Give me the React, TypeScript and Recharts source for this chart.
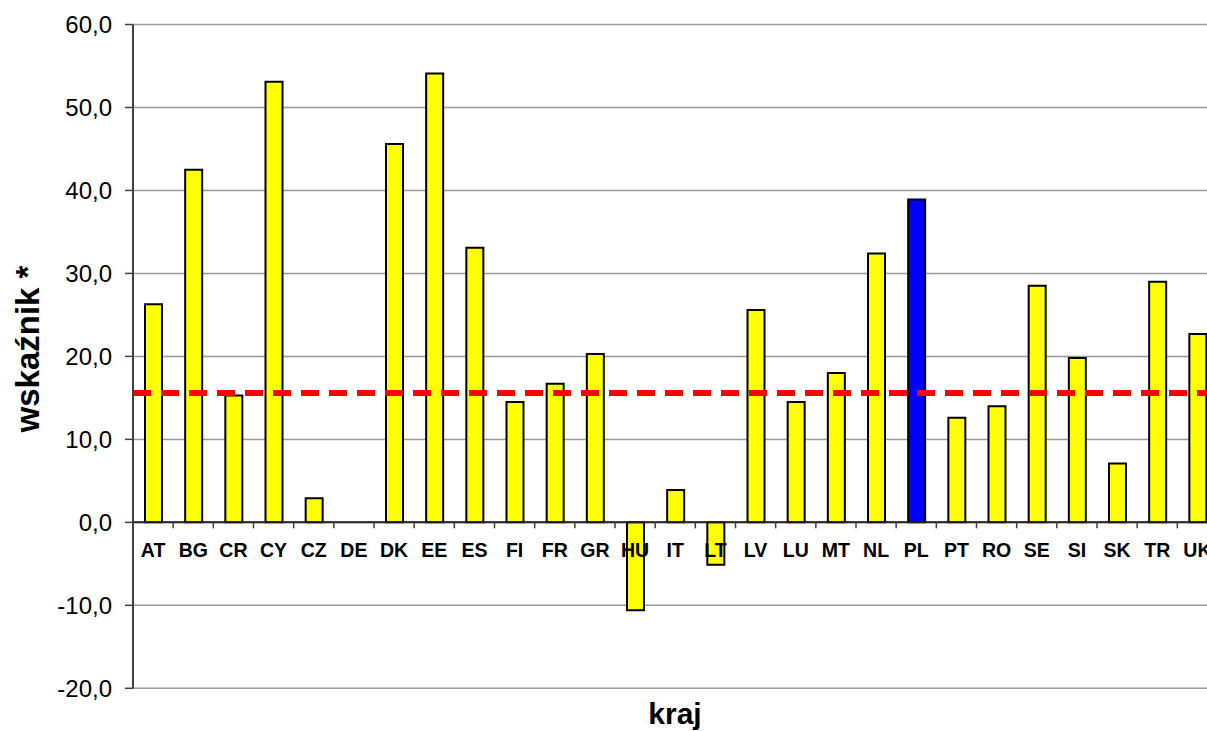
import { BarChart, Bar, Cell, CartesianGrid, XAxis, YAxis, ReferenceLine } from "recharts";

const countries = ["AT", "BG", "CR", "CY", "CZ", "DE", "DK", "EE", "ES", "FI", "FR", "GR", "HU", "IT", "LT", "LV", "LU", "MT", "NL", "PL", "PT", "RO", "SE", "SI", "SK", "TR", "UK"];
const values = [26.3, 42.5, 15.3, 53.1, 2.9, 0, 45.6, 54.1, 33.1, 14.5, 16.7, 20.3, -10.6, 3.9, -5.1, 25.6, 14.5, 18.0, 32.4, 38.9, 12.6, 14.0, 28.5, 19.8, 7.1, 29.0, 22.7];
const yTicks = [-20, -10, 0, 10, 20, 30, 40, 50, 60];
const average = 15.6;
const highlighted = "PL";

const data = countries.map((kraj, i) => ({ kraj, value: values[i] }));

const W = 1240;
const H = 731;
const X_AXIS_H = 2;
const M = { top: 24.5, right: 22.5, bottom: 42.7 - X_AXIS_H, left: 73 };
const Y_AXIS_W = 60;
const plotW = W - M.left - M.right - Y_AXIS_W;
const plotH = H - M.top - M.bottom - X_AXIS_H;
const band = plotW / countries.length;
const zeroOffset = (0 - yTicks[0]) / (yTicks[yTicks.length - 1] - yTicks[0]) * plotH;
const plotBottom = M.top + plotH;

const font = "'Liberation Sans', Arial, sans-serif";
const fmt = (v: number) => v.toFixed(1).replace(".", ",");

const CountryTick = (props: any) => {
  const { x, payload } = props;
  const zy = plotBottom - zeroOffset;
  return (
    <g>
      <line x1={x - band / 2} y1={zy} x2={x - band / 2} y2={zy + 6} stroke="#404040" strokeWidth={1.5} />
      <text x={x} y={zy + 34.5} textAnchor="middle" fontSize={19.5} fontWeight="bold" fontFamily={font} fill="#000">
        {payload.value}
      </text>
    </g>
  );
};

export default function App() {
  return (
    <div style={{ position: "absolute", left: 0, top: 0, width: 1207, height: 731, overflow: "hidden", background: "#fff" }}>
      <BarChart width={W} height={H} data={data} margin={M} barSize={17}>
        <CartesianGrid vertical={false} stroke="#9a9a9a" strokeWidth={1.5} />
        <XAxis
          dataKey="kraj"
          height={X_AXIS_H}
          axisLine={false}
          tickLine={false}
          tickSize={0}
          tickMargin={0}
          interval={0}
          tick={<CountryTick />}
        />
        <YAxis
          width={Y_AXIS_W}
          domain={[-20, 60]}
          ticks={yTicks}
          tickFormatter={fmt}
          axisLine={{ stroke: "#404040", strokeWidth: 2 }}
          tickLine={{ stroke: "#404040", strokeWidth: 1.5 }}
          tickSize={8}
          tickMargin={13}
          tick={{ fontSize: 24, fill: "#000", fontFamily: font }}
        />
        <ReferenceLine y={0} stroke="#202020" strokeWidth={2} />
        <Bar dataKey="value" stroke="#000" strokeWidth={2} isAnimationActive={false}>
          {data.map((d) => (
            <Cell key={d.kraj} fill={d.kraj === highlighted ? "#0000ff" : "#ffff00"} />
          ))}
        </Bar>
        <ReferenceLine y={average} stroke="#ff0000" strokeWidth={6} strokeDasharray="18 10" />
      </BarChart>
      <svg width={1207} height={731} style={{ position: "absolute", left: 0, top: 0, pointerEvents: "none" }}>
        <text x={675} y={724} textAnchor="middle" fontSize={30} fontWeight="bold" fontFamily={font} fill="#000">
          kraj
        </text>
        <text
          x={0}
          y={0}
          transform="translate(39 349) rotate(-90)"
          textAnchor="middle"
          fontSize={33}
          fontWeight="bold"
          fontFamily={font}
          fill="#000"
        >
          wskaźnik *
        </text>
      </svg>
    </div>
  );
}
